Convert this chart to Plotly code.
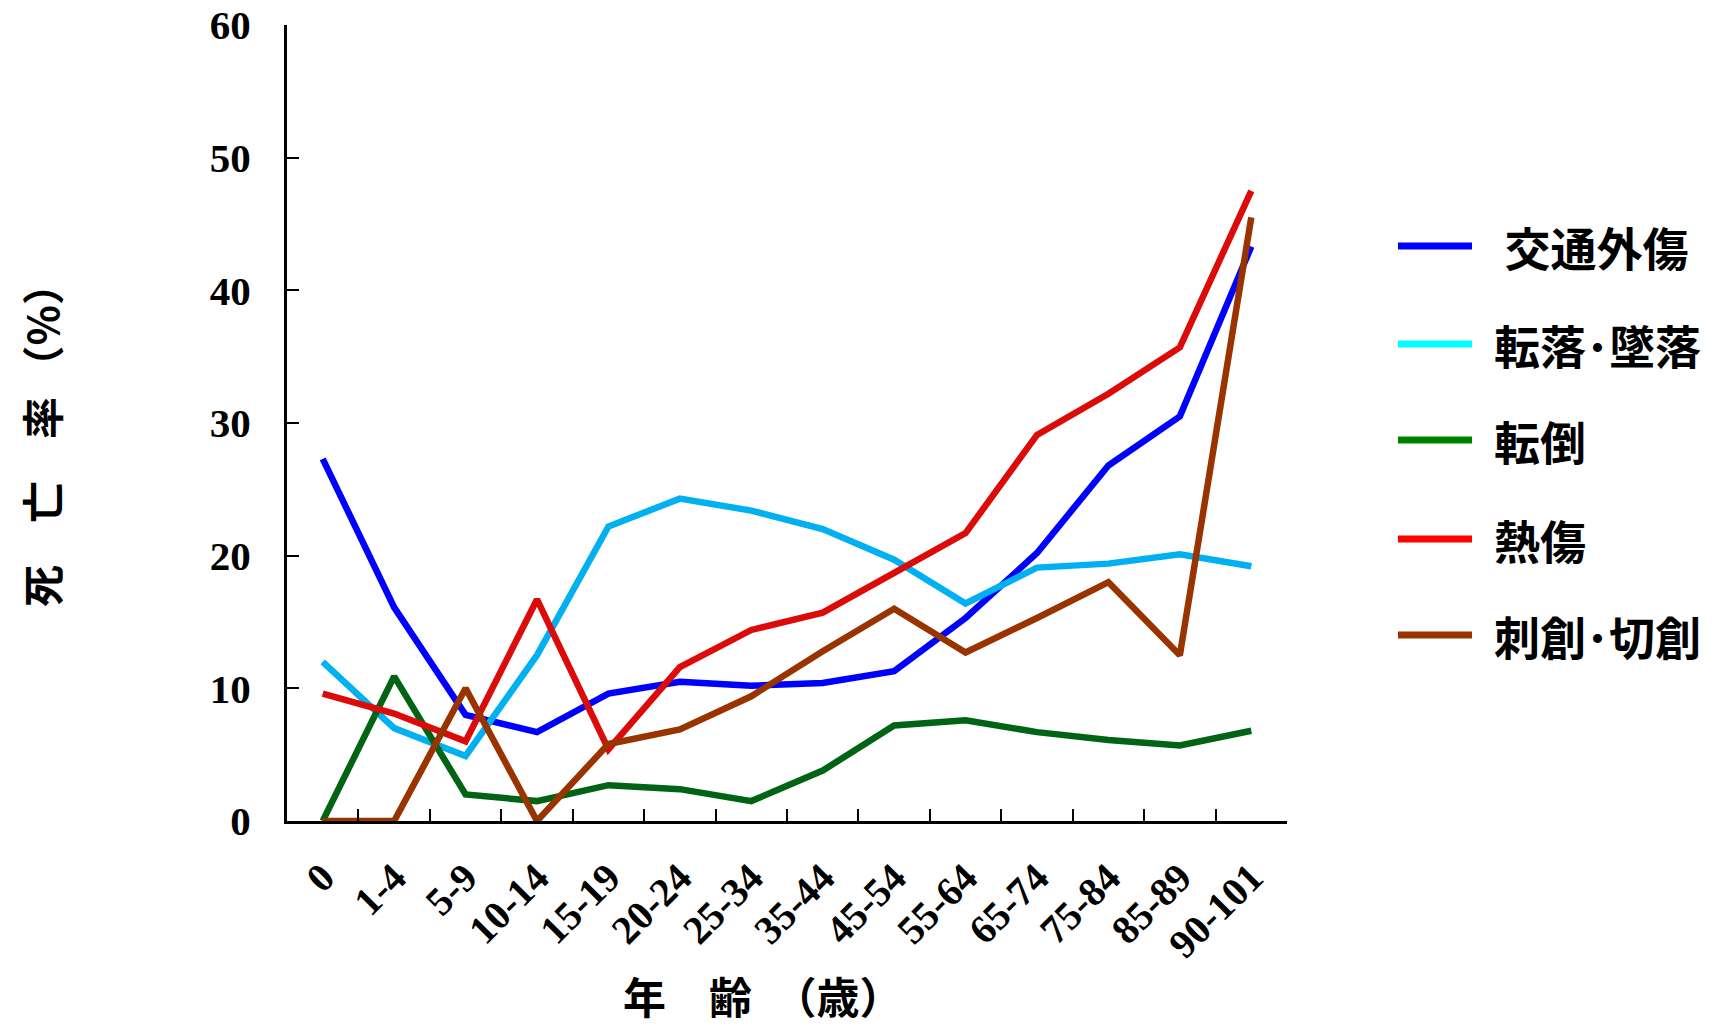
import plotly.graph_objects as go

# 年齢区分
age_groups = ["0", "1-4", "5-9", "10-14", "15-19", "20-24", "25-34", "35-44",
              "45-54", "55-64", "65-74", "75-84", "85-89", "90-101"]

# 死亡率 (%)
traffic = [27.3, 16.1, 8.0, 6.7, 9.6, 10.5, 10.2, 10.4, 11.3, 15.3, 20.2, 26.8, 30.5, 43.3]
fall_height = [12.0, 7.0, 4.9, 12.5, 22.2, 24.3, 23.4, 22.0, 19.7, 16.4, 19.1, 19.4, 20.1, 19.2]
fall_ground = [0.0, 10.9, 2.0, 1.5, 2.7, 2.4, 1.5, 3.8, 7.2, 7.6, 6.7, 6.1, 5.7, 6.8]
burn = [9.6, 8.1, 6.0, 16.7, 5.4, 11.6, 14.4, 15.7, 18.7, 21.7, 29.1, 32.2, 35.7, 47.5]
stab = [0.0, 0.0, 10.0, 0.0, 5.8, 6.9, 9.4, 12.8, 16.0, 12.7, 15.3, 18.0, 12.5, 45.5]

series_names = [" 交通外傷", "転落･墜落", "転倒", "熱傷", "刺創･切創"]
series_values = [traffic, fall_height, fall_ground, burn, stab]
line_colors = ["#0000FF", "#00B0F0", "#006414", "#DD0A0A", "#993300"]
legend_colors = ["#0000FF", "#00FFFF", "#008000", "#FF0000", "#993300"]

CJK = "Noto Sans CJK JP"
SERIF = "Liberation Serif"

fig = go.Figure()

for name, vals, color in zip(series_names, series_values, line_colors):
    fig.add_trace(go.Scatter(
        x=age_groups, y=vals, mode="lines", name=name.strip(),
        line=dict(color=color, width=6.5),
        showlegend=False
    ))

# hand-drawn legend (long line samples, wide spacing)
legend_y = [0.7224, 0.5992, 0.4786, 0.3543, 0.2337]
for name, color, ly in zip(series_names, legend_colors, legend_y):
    fig.add_shape(type="line", xref="paper", yref="paper",
                  x0=1.111, x1=1.185, y0=ly, y1=ly,
                  line=dict(color=color, width=7))
    fig.add_annotation(xref="paper", yref="paper", x=1.205, y=ly,
                       xanchor="left", yanchor="middle", showarrow=False,
                       text=name,
                       font=dict(family=CJK, size=46, color="black", weight="bold"))

# axis titles
fig.add_annotation(xref="paper", yref="paper", x=0.476, y=-0.219,
                   xanchor="center", yanchor="middle", showarrow=False,
                   text="年　齢　（歳）",
                   font=dict(family=CJK, size=43, color="black", weight="bold"))
fig.add_annotation(xref="paper", yref="paper", x=-0.246, y=0.485,
                   xanchor="center", yanchor="middle", showarrow=False,
                   textangle=-90, text="死　亡　率 （%）",
                   font=dict(family=CJK, size=42, color="black", weight="bold"))

fig.update_layout(
    width=1724, height=1028,
    margin=dict(l=287, r=437, t=25, b=207, autoexpand=False),
    paper_bgcolor="white", plot_bgcolor="white",
    showlegend=False,
    xaxis=dict(
        type="category", range=[-0.5, 13.5], automargin=False,
        showline=True, linecolor="black", linewidth=3,
        ticks="inside", tickson="boundaries", ticklen=12, tickwidth=2,
        tickcolor="black", tickangle=-45, ticklabelstandoff=14,
        ticklabeloverflow="allow",
        showgrid=False, zeroline=False,
        tickfont=dict(family=SERIF, size=40, color="black", weight="bold"),
    ),
    yaxis=dict(
        range=[0, 60], dtick=10, automargin=False,
        showline=True, linecolor="black", linewidth=3,
        ticks="inside", ticklen=12, tickwidth=2, tickcolor="black",
        ticklabelstandoff=25, ticklabeloverflow="allow",
        showgrid=False, zeroline=False,
        tickfont=dict(family=SERIF, size=41, color="black", weight="bold"),
    ),
)

# drop the page's default body margin so the figure fills the window
fig.write_html("out.html",
               config={"displayModeBar": False},
               post_script="document.body.style.margin='0px';"
                           "document.body.style.overflow='hidden';")
